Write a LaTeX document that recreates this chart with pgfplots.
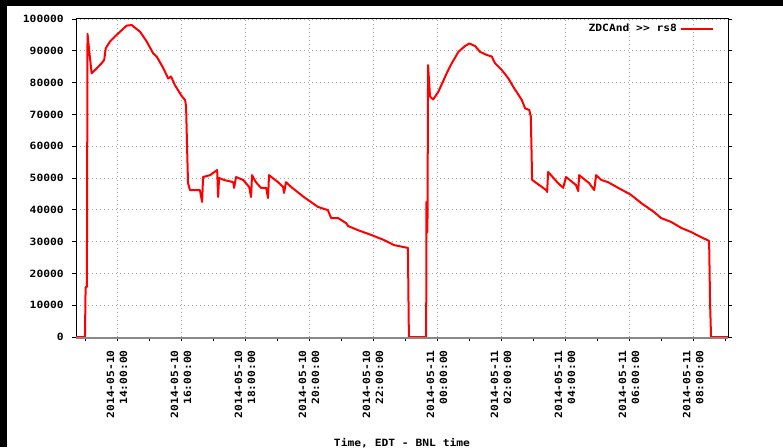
\documentclass[border=0pt]{standalone}
\usepackage{fontspec}
\usepackage{pgfplots}
\pgfplotsset{compat=1.18}
\newfontfamily\tickfont[FakeStretch=1.13]{DejaVu Sans Mono}
\newcommand\tf{\fontsize{7.5}{9.75}\selectfont\tickfont\bfseries}
\definecolor{lred}{RGB}{255,0,0}
\definecolor{gridgray}{RGB}{165,165,165}
\definecolor{zgray}{RGB}{136,136,136}
\begin{document}
\begin{tikzpicture}
\path[use as bounding box, fill=white] (0pt,0pt) rectangle (587.25pt,335.25pt);
\begin{axis}[
  at={(57pt,82.5pt)}, anchor=south west,
  scale only axis, width=489pt, height=238.5pt,
  xmin=12.72, xmax=33.09, ymin=0, ymax=100000,
  xtick={14,16,18,20,22,24,26,28,30,32},
  xticklabels={{2014-05-10\\14:00:00},{2014-05-10\\16:00:00},{2014-05-10\\18:00:00},{2014-05-10\\20:00:00},{2014-05-10\\22:00:00},{2014-05-11\\00:00:00},{2014-05-11\\02:00:00},{2014-05-11\\04:00:00},{2014-05-11\\06:00:00},{2014-05-11\\08:00:00}},
  minor xtick={13,15,17,19,21,23,25,27,29,31,33},
  ytick={0,10000,20000,30000,40000,50000,60000,70000,80000,90000,100000},
  scaled y ticks=false,
  /pgf/number format/.cd, fixed, 1000 sep={}, assume math mode=true, /pgfplots/.cd,
  tick align=outside,
  major tick length=3pt, minor tick length=3pt,
  xtick pos=bottom, ytick pos=both, yticklabel pos=left,
  tick style={black, line width=0.6pt},
  axis line style={black, line width=0.75pt},
  grid=major,
  grid style={gridgray, line width=0.6pt, dash pattern=on 0.75pt off 2.25pt},
  tick label style={font=\tf},
  xticklabel style={yshift=-6.75pt, rotate=90, anchor=east, align=right, inner sep=0pt},
  yticklabel style={anchor=east, inner sep=0pt, xshift=-6pt},
  xlabel={Time, EDT - BNL time},
  xlabel style={at={(axis description cs:0.5,-0.3176)}, anchor=north, inner sep=0pt, font=\tf},
  legend style={draw=none, fill=none, at={(axis description cs:0.9785,0.9686)}, anchor=east, inner sep=0pt, font=\tf},
  legend plot pos=right,
  legend image code/.code={\draw[#1] (0pt,0pt) -- (24pt,0pt);},
]
\addplot[lred, line width=1.5pt, line join=round] coordinates {
(12.72,0) (13.00,0) (13.02,15700) (13.06,15700) (13.08,95300) (13.14,89300) (13.21,82900)
(13.37,84500) (13.52,86100) (13.60,87100) (13.65,90800) (13.78,92900) (13.99,95000)
(14.15,96500) (14.30,97900) (14.46,98100) (14.72,96000) (14.93,92900) (15.13,89200)
(15.24,88200) (15.45,84500) (15.60,81300) (15.69,81900) (15.81,79200) (16.02,75800)
(16.13,74500) (16.16,72300) (16.19,59700)
(16.22,48400) (16.28,46200) (16.59,46200) (16.66,42500) (16.69,50300) (16.91,50900)
(17.13,52500) (17.16,44000) (17.19,50000) (17.34,49400) (17.63,48700) (17.66,46900)
(17.72,50300) (17.94,49400) (18.13,47200) (18.19,44000) (18.22,50900) (18.34,48700)
(18.50,46900) (18.66,46900) (18.72,43700) (18.75,50900) (19.03,48700) (19.19,47200)
(19.22,45300) (19.28,48700) (19.44,47200) (19.84,44000) (20.28,40900) (20.59,39900)
(20.69,37400) (20.91,37400) (21.16,35800) (21.22,34900) (21.53,33600) (21.94,32100)
(22.34,30500) (22.66,28900) (23.09,28000) (23.12,0) (23.66,0) (23.67,42500)
(23.70,33000) (23.72,85500) (23.78,75600) (23.88,74700) (24.04,77100) (24.30,82900)
(24.46,86100) (24.67,89700) (24.875,91500) (25.01,92300) (25.19,91500) (25.34,89700)
(25.55,88700) (25.71,88200) (25.81,86100) (26.02,84000) (26.23,81300) (26.38,78700)
(26.65,74500) (26.75,71900) (26.88,71400) (26.93,69300) (26.97,49400) (27.41,46200)
(27.44,45600) (27.47,51900) (27.78,48400) (27.94,46900) (28.03,50300) (28.34,47800)
(28.41,45900) (28.44,50900) (28.75,48400) (28.91,46200) (28.97,50900) (29.13,49400)
(29.34,48700) (29.66,46900) (30.06,44700) (30.38,42100) (30.78,39300) (31.00,37400)
(31.31,36200) (31.63,34300) (31.94,33000) (32.25,31400) (32.50,30200) (32.53,10700)
(32.56,0) (33.09,0)
};
\addlegendentry{ZDCAnd >> rs8}
\end{axis}
\draw[zgray, line width=1.2pt] (57pt,81.9pt) -- (546pt,81.9pt);
\fill[black] (0pt,0pt) rectangle (5.25pt,335.25pt);
\fill[black] (0pt,330.75pt) rectangle (587.25pt,335.25pt);
\end{tikzpicture}
\end{document}
